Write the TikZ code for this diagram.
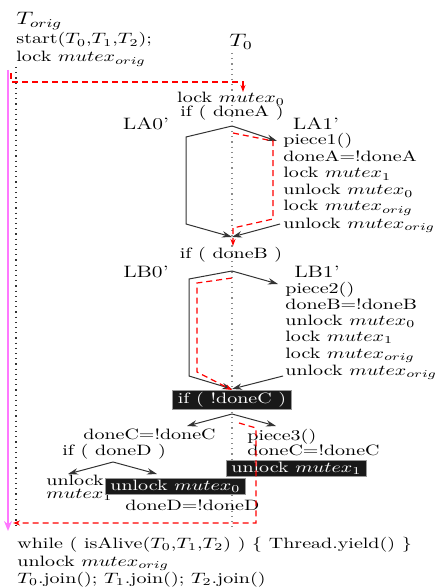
\documentclass[tikz,border=0pt]{standalone}
\usepackage{amsmath}
\usepackage{amssymb}
\usepackage{tikz}
\usetikzlibrary{positioning}
\usetikzlibrary{arrows.meta}
\definecolor{mainpink}{RGB}{255,120,255}
\tikzset{
    code/.style={anchor=base west, inner sep=0pt, yscale=0.75, font=\fontsize{10}{12}\selectfont}, % 普通代码行
    mid code/.style={code, anchor=base}, % 居中的代码行
    inv code/.style={code, fill=black!90, text=white, draw=black!40, inner xsep=2.5pt, inner ysep=1.3pt}, % 反色代码行
    branch label/.style={anchor=base, inner sep=0pt, yscale=0.75, font=\fontsize{11}{13}\selectfont},
    thread label/.style={anchor=base west, inner sep=0pt, yscale=0.75, font=\large},
    flow/.style={draw=black!80, line width=0.5pt, -{Stealth[length=5pt,width=3.2pt]}},
    run path/.style={red, line width=0.6pt, dash pattern=on 3pt off 2pt},
    run tip/.style={-{Stealth[length=3.5pt,width=2.5pt]}},
    thread line/.style={black!45, dotted, line width=0.6pt}
}

\begin{document}
\begin{tikzpicture}[x=0.5pt, y=-0.5pt]
    \useasboundingbox (0,0) rectangle (437,588);

    % --- 1. 主线程与 T0 ---
    \node[thread label] (torig) at (16,25) {$T_{orig}$};
    \node[code] (start) at (16,44) {start($T_0$,$T_1$,$T_2$);};
    \node[code] (lockorig) at (16,62) {lock $mutex_{orig}$};
    \node[thread label] (tzero) at (229,47) {$T_0$};

    \coordinate (orig top) at (16,67);
    \coordinate (orig end) at (16,527);
    \coordinate (t0 top) at (232,53);
    \coordinate (t0 end) at (232,530);
    \coordinate (main top) at (8,70);
    \coordinate (main end) at (8,531);
    \draw[thread line, black!80] (orig top) -- (orig end);
    \draw[thread line] (t0 top) -- (t0 end);
    \draw[mainpink, line width=1.2pt, -{Stealth[length=5pt,width=4pt]}] (main top) -- (main end);

    % --- 2. 分支 A ---
    \node[mid code] (lockzero) at (231,103) {lock $mutex_0$};
    \node[mid code] (ifA) at (232,117) {if ( doneA )};
    \node[branch label] (LA0) at (146,130) {LA0'};
    \node[branch label] (LA1) at (316,130) {LA1'};
    \foreach \y / \labelText [count=\i] in {
        145/{piece1()},
        162/{doneA=!doneA},
        178/{lock $mutex_1$},
        195/{unlock $mutex_0$},
        211/{lock $mutex_{orig}$},
        228/{unlock $mutex_{orig}$}
    } {
        \node[code] (pA\i) at (283,\y) {\labelText};
    }
    \coordinate (A top) at (232,126);
    \coordinate (A lt) at (186,137);
    \coordinate (A lb) at (186,224);
    \coordinate (A join) at (232,237);
    \coordinate (A rt) at (277,141);
    \coordinate (A rb) at (280,224);
    \draw[flow] (A top) -- (A lt) -- (A lb) -- (A join);
    \draw[flow] (A top) -- (A rt);
    \draw[flow] (A rb) -- (A join);

    % --- 3. 分支 B ---
    \node[mid code] (ifB) at (231,258) {if ( doneB )};
    \node[branch label] (LB0) at (146,277) {LB0'};
    \node[branch label] (LB1) at (317,277) {LB1'};
    \foreach \y / \labelText [count=\i] in {
        293/{piece2()},
        309/{doneB=!doneB},
        325/{unlock $mutex_0$},
        341/{lock $mutex_1$},
        358/{lock $mutex_{orig}$},
        375/{unlock $mutex_{orig}$}
    } {
        \node[code] (pB\i) at (285,\y) {\labelText};
    }
    \coordinate (B top) at (232,271);
    \coordinate (B lt) at (189,279);
    \coordinate (B lb) at (189,376);
    \coordinate (B join) at (232,389);
    \coordinate (B rt) at (278,284);
    \coordinate (B rb) at (283,376);
    \draw[flow] (B top) -- (B lt) -- (B lb) -- (B join);
    \draw[flow] (B top) -- (B rt);
    \draw[flow] (B rb) -- (B join);

    % --- 4. 分支 C 与 D ---
    \node[inv code, anchor=north] (ifC) at (232,390) {if ( !doneC )};
    \coordinate (C top) at (232,414);
    \coordinate (C left) at (187,426);
    \coordinate (C right) at (276,426);
    \draw[flow] (C top) -- (C left);
    \draw[flow] (C top) -- (C right);

    \node[code] (doneCl) at (83,439) {doneC=!doneC};
    \node[code] (ifD) at (62,455) {if ( doneD )};
    \coordinate (D top) at (113,462);
    \coordinate (D left) at (68,474);
    \coordinate (D right) at (157,474);
    \draw[flow] (D top) -- (D left);
    \draw[flow] (D top) -- (D right);
    \node[code] (unl) at (46,485) {unlock};
    \node[code] (mxone) at (46,498) {$mutex_1$};
    \node[inv code, anchor=north west] (unlzero) at (105,478) {unlock $mutex_0$};
    \node[code] (doneDl) at (125,510) {doneD=!doneD};

    \node[code] (p3) at (247,440) {piece3()};
    \node[code] (doneCr) at (247,455) {doneC=!doneC};
    \node[inv code, anchor=north west] (unlone) at (226,460) {unlock $mutex_1$};

    % --- 5. 红色执行路径 ---
    \coordinate (r0) at (11,73);
    \coordinate (r1) at (11,82);
    \coordinate (r2) at (243,82);
    \coordinate (r3) at (243,92);
    \draw[run path, run tip] (r0) -- (r1) -- (r2) -- (r3);
    \coordinate (ra0) at (233,133);
    \coordinate (ra1) at (273,141);
    \coordinate (ra2) at (273,219);
    \coordinate (ra3) at (233,228);
    \coordinate (ra4) at (233,246);
    \draw[run path, run tip] (ra0) -- (ra1) -- (ra2) -- (ra3) -- (ra4);
    \coordinate (rb0) at (232,278);
    \coordinate (rb1) at (197,283);
    \coordinate (rb2) at (197,372);
    \draw[run path, run tip] (rb0) -- (rb1) -- (rb2) -- (ifC.north);
    \coordinate (rc0) at (239,423);
    \coordinate (rc1) at (256,428);
    \coordinate (rc2) at (256,523);
    \coordinate (rc3) at (13,523);
    \draw[run path, run tip] (rc0) -- (rc1) -- (rc2) -- (rc3);

    % --- 6. 结尾 ---
    \node[code] (whileln) at (17,548) {while ( isAlive($T_0$,$T_1$,$T_2$) ) \{ Thread.yield() \}};
    \node[code] (unlorig) at (17,566) {unlock $mutex_{orig}$};
    \node[code] (joins) at (17,583) {$T_0$.join(); $T_1$.join(); $T_2$.join()};
\end{tikzpicture}
\end{document}
